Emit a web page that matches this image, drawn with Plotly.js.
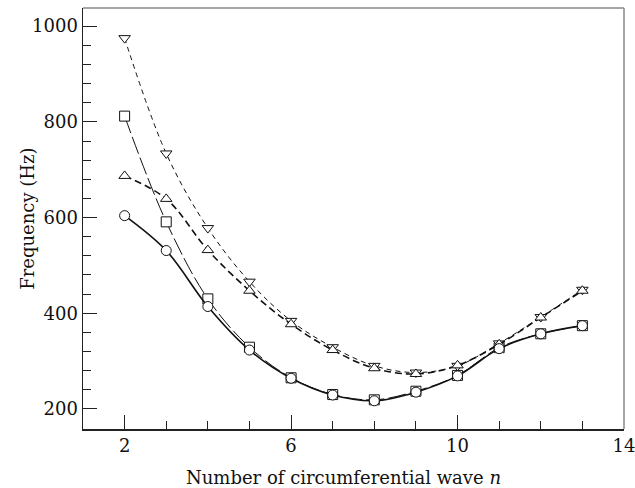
<!DOCTYPE html>
<html><head><meta charset="utf-8">
<script src="https://cdn.plot.ly/plotly-3.0.1.min.js"></script>
<style>html,body{margin:0;padding:0;background:#fff}#plot{width:635px;height:488px}</style>
</head><body><div id="plot"></div>
<script>
const n = [2,3,4,5,6,7,8,9,10,11,12,13];
const circleFreq = [604,531,414,323,264,229,217,235,269,326,357,374];
const squareFreq = [812,591,430,329,265,230,219,237,270,328,357,374];
const triUpFreq = [687,639,532,447,377,323,285,273,291,335,391,447];
const triDownFreq = [975,734,578,466,384,329,290,276,290,337,392,449];

const FONT = "DejaVu Serif, Liberation Serif, serif";
function tr(y, sym, dash, width){
  return {x:n, y:y, type:'scatter', mode:'lines+markers',
    line:{color:'#111', width:width, dash:dash, shape:'spline', smoothing:1},
    marker:{symbol:sym, size:10, color:'#fff', line:{color:'#111', width:1}},
    showlegend:false};
}
const data = [
  tr(squareFreq,'square','18px,4px',1),
  tr(triDownFreq,'triangle-down','5px,4px',1),
  tr(triUpFreq,'triangle-up','7px,4px',1.6),
  tr(circleFreq,'circle','solid',1.6)
];
const layout = {
  width:635, height:488,
  margin:{l:83, r:11, t:8, b:59},
  paper_bgcolor:'#fff', plot_bgcolor:'#fff',
  font:{family:FONT, color:'#111', size:18},
  xaxis:{range:[1,14], tick0:2, dtick:4, ticks:'inside', ticklen:14, tickcolor:'#222', tickwidth:1,
    minor:{dtick:1, ticks:'inside', ticklen:8, tickcolor:'#222', tickwidth:1, showgrid:false},
    showgrid:false, zeroline:false, showline:true, linecolor:'#222', linewidth:1.5,
    ticklabeloverflow:'allow',
    tickfont:{family:FONT, size:18}},
  yaxis:{range:[158,1038], tick0:200, dtick:200, ticks:'inside', ticklen:14, tickcolor:'#222', tickwidth:1,
    minor:{dtick:40, ticks:'inside', ticklen:8, tickcolor:'#222', tickwidth:1, showgrid:false},
    showgrid:false, zeroline:false, showline:true, linecolor:'#222', linewidth:1.5,
    tickfont:{family:FONT, size:18}},
  annotations:[
    {text:'Number of circumferential wave <i>n</i>', xref:'paper', yref:'paper', x:0.482, y:-0.116,
     xanchor:'center', yanchor:'middle', showarrow:false, font:{family:FONT, size:18}},
    {text:'Frequency (Hz)', xref:'paper', yref:'paper', x:-0.103, y:0.5, textangle:-90,
     xanchor:'center', yanchor:'middle', showarrow:false, font:{family:FONT, size:18}}
  ],
  shapes:[
    {type:'line', xref:'paper', yref:'paper', x0:0, x1:1, y0:1, y1:1, line:{color:'#888', width:1.5}},
    {type:'line', xref:'paper', yref:'paper', x0:1, x1:1, y0:0, y1:1, line:{color:'#888', width:1.5}}
  ]
};
Plotly.newPlot('plot', data, layout, {displayModeBar:false, staticPlot:true});
</script></body></html>
